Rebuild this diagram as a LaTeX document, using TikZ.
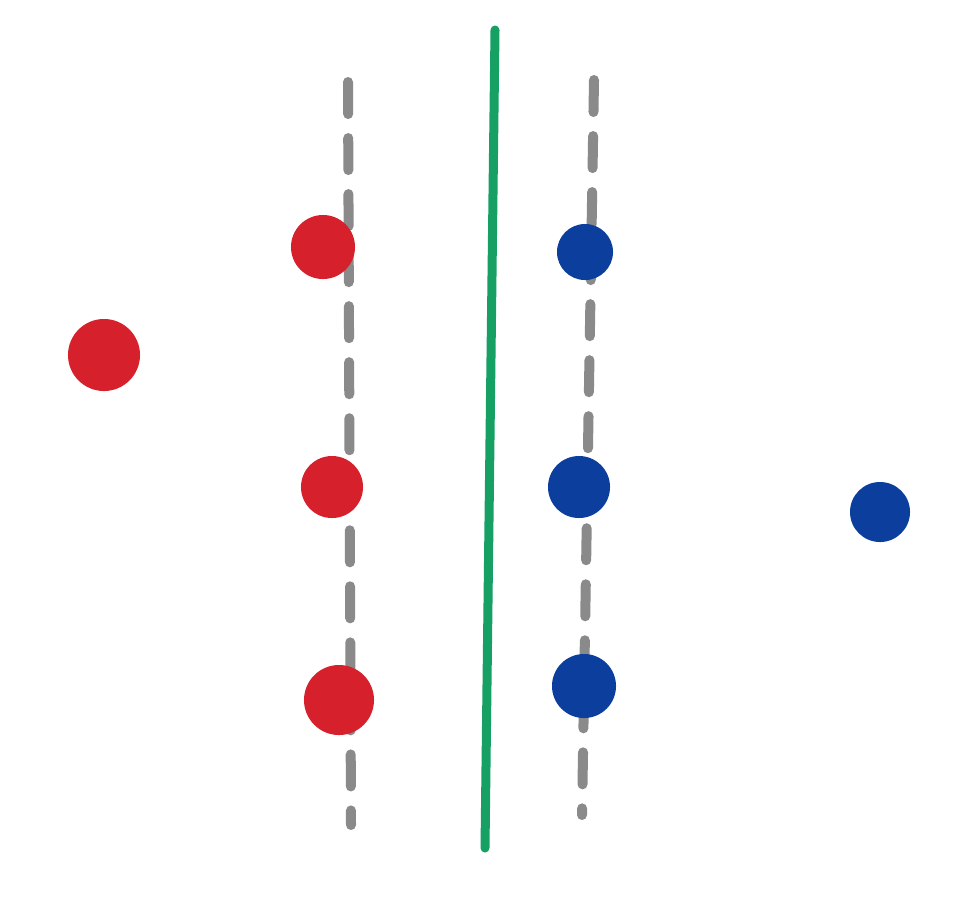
\documentclass[tikz,border=0pt]{standalone}
\begin{document}
\begin{tikzpicture}[x=0.01cm,y=-0.01cm,
  reddot/.style={circle,fill=svmred,inner sep=0pt,minimum size=#1},
  bluedot/.style={circle,fill=svmblue,inner sep=0pt,minimum size=#1},
  margin/.style={draw=svmgray,line width=0.1cm,line cap=round,dash pattern=on 0.32cm off 0.24cm},
  boundary/.style={draw=svmgreen,line width=0.09cm,line cap=round}]
\definecolor{svmred}{RGB}{214,32,44}
\definecolor{svmblue}{RGB}{12,62,158}
\definecolor{svmgray}{RGB}{138,138,138}
\definecolor{svmgreen}{RGB}{22,160,100}
\useasboundingbox (0,0) rectangle (979,902);
% margins
\coordinate (lt) at (348,82);
\coordinate (lb) at (351,825);
\coordinate (rt) at (594,80);
\coordinate (rb) at (582,815);
\coordinate (gt) at (495,30);
\coordinate (gb) at (485,848);
\path[margin] (lt) -- (lb);
\path[margin] (rt) -- (rb);
\path[boundary] (gt) -- (gb);
% red class
\node[reddot=0.64cm] (r1) at (323,247) {};
\node[reddot=0.72cm] (r2) at (104,355) {};
\node[reddot=0.62cm] (r3) at (332,487) {};
\node[reddot=0.70cm] (r4) at (339,700) {};
% blue class
\node[bluedot=0.56cm] (b1) at (585,252) {};
\node[bluedot=0.62cm] (b2) at (579,487) {};
\node[bluedot=0.64cm] (b3) at (584,686) {};
\node[bluedot=0.60cm] (b4) at (880,512) {};
\end{tikzpicture}
\end{document}
